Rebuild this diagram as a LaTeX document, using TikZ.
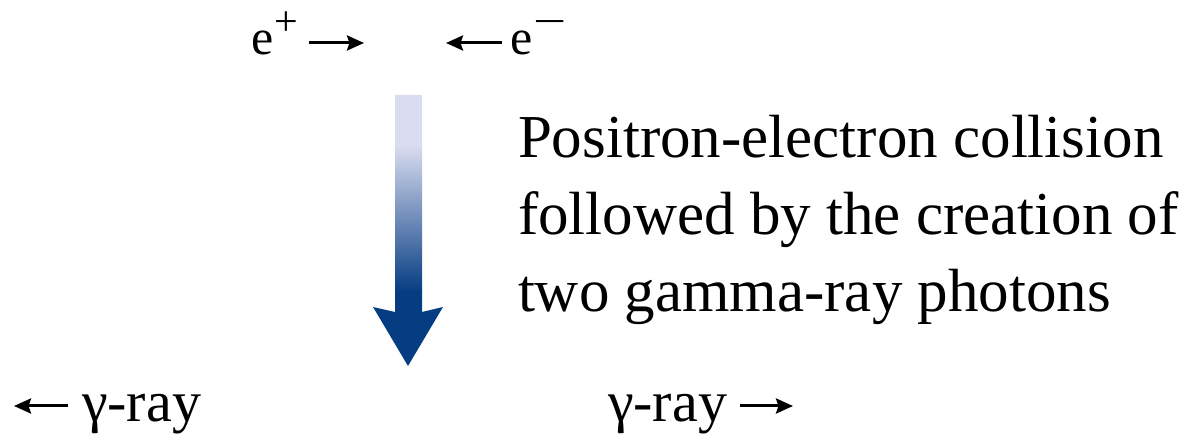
\documentclass[tikz,border=0pt]{standalone}
\usepackage{fontspec}
\setmainfont{Liberation Serif}
\usetikzlibrary{arrows.meta}
\definecolor{arrowlight}{HTML}{DADDF0}
\definecolor{arrowdark}{HTML}{053C82}
\tikzset{
  lbl/.style={inner sep=0pt, outer sep=0pt, anchor=base west, text=black},
  particle/.style={lbl, font=\fontsize{50}{60}\selectfont},
  gamma/.style={lbl, font=\fontsize{58}{68}\selectfont},
  caption/.style={lbl, font=\fontsize{61}{77}\selectfont},
  txtarrow/.style={line width=3pt, -{Stealth[length=17pt, width=15pt, inset=2.5pt]}},
}
\newcommand{\supplus}{\raisebox{19pt}{\fontsize{42}{42}\selectfont +}}
\newcommand{\supminus}{\raisebox{19pt}{\fontsize{42}{42}\selectfont\scalebox{1.4}[1]{−}}}
\begin{document}
\begin{tikzpicture}[x=1pt,y=-1pt]
\useasboundingbox (0,0) rectangle (1195,435);
% particles
\node[particle] (eplus) at (251,55) {e\kern1pt\supplus};
\node[particle] (eminus) at (510,55) {e\kern1pt\supminus};
\coordinate (eplusTip) at (364,43);
\coordinate (eminusTip) at (446,43);
\draw[txtarrow] (309,43) coordinate (eplusTail) -- (eplusTip);
\draw[txtarrow] (502,43) coordinate (eminusTail) -- (eminusTip);
% caption
\node[caption] (cap1) at (518,158) {Positron-electron collision};
\node[caption] (cap2) at (518,235) {followed by the creation of};
\node[caption] (cap3) at (518,312) {two gamma-ray photons};
% gamma rays
\node[gamma] (gleft) at (82,422) {γ-ray};
\node[gamma] (gright) at (608,422) {γ-ray};
\coordinate (gleftTip) at (14,406);
\coordinate (grightTip) at (793,406);
\draw[txtarrow] (68,406) coordinate (gleftTail) -- (gleftTip);
\draw[txtarrow] (740,406) coordinate (grightTail) -- (grightTip);
% big gradient arrow
\begin{scope}
\clip (395,95) -- (422,95) -- (422,312) -- (443,307) -- (408,366)
      -- (373,307) -- (395,312) -- cycle;
\fill[arrowlight] (370,90) rectangle (446,146);
\shade[top color=arrowlight, bottom color=arrowdark] (370,145) rectangle (446,292);
\fill[arrowdark] (370,291) rectangle (446,370);
\end{scope}
\end{tikzpicture}
\end{document}
